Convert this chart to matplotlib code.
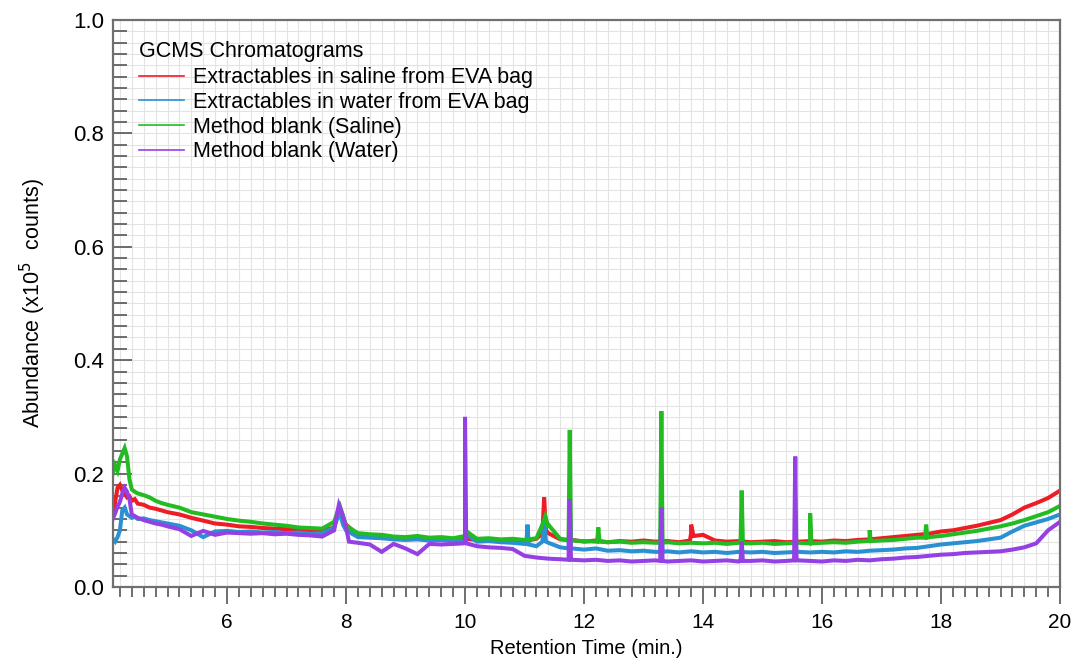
import numpy as np
import matplotlib
matplotlib.use('Agg')
import matplotlib.pyplot as plt
from matplotlib.ticker import MultipleLocator, FormatStrFormatter

plt.rcParams['font.family'] = ['Liberation Sans', 'DejaVu Sans']

# Tiempos de muestreo (min)
t_inicio = [4.08, 4.12, 4.16, 4.20, 4.24, 4.28, 4.32, 4.36, 4.40, 4.45,
            4.50, 4.60, 4.70, 4.80, 4.90]
t_regular = list(np.round(np.arange(5.0, 20.01, 0.2), 2))
tiempos = t_inicio + t_regular

# Línea base de cada cromatograma (x1e5 counts)
rojo = [0.125, 0.150, 0.175, 0.180, 0.170, 0.165, 0.158, 0.160, 0.152, 0.155,
        0.147, 0.145, 0.140, 0.138, 0.135,
        0.132, 0.128, 0.122, 0.117, 0.112, 0.110, 0.107, 0.106, 0.104, 0.103,
        0.102, 0.101, 0.100, 0.099, 0.105, 0.110, 0.092, 0.090, 0.089, 0.087,
        0.086, 0.088, 0.085, 0.086, 0.084, 0.085, 0.083, 0.084, 0.082, 0.083,
        0.081, 0.085, 0.095, 0.084, 0.083, 0.080, 0.082, 0.079, 0.081, 0.080,
        0.082, 0.080, 0.081, 0.079, 0.095, 0.092, 0.082, 0.080, 0.081, 0.079,
        0.080, 0.081, 0.079, 0.080, 0.081, 0.080, 0.082, 0.081, 0.083, 0.084,
        0.086, 0.088, 0.090, 0.092, 0.094, 0.098, 0.100, 0.104, 0.108, 0.113,
        0.118, 0.128, 0.140, 0.148, 0.157, 0.170]

azul = [0.085, 0.080, 0.088, 0.100, 0.135, 0.140, 0.128, 0.125, 0.122, 0.124,
        0.120, 0.121, 0.118, 0.116, 0.114,
        0.112, 0.108, 0.100, 0.088, 0.098, 0.099, 0.097, 0.098, 0.096, 0.097,
        0.095, 0.096, 0.094, 0.095, 0.105, 0.100, 0.088, 0.087, 0.086, 0.084,
        0.083, 0.084, 0.082, 0.083, 0.081, 0.082, 0.080, 0.081, 0.079, 0.078,
        0.076, 0.072, 0.078, 0.070, 0.068, 0.066, 0.068, 0.064, 0.065, 0.063,
        0.064, 0.062, 0.063, 0.061, 0.063, 0.061, 0.062, 0.060, 0.062, 0.061,
        0.062, 0.060, 0.061, 0.062, 0.061, 0.062, 0.061, 0.063, 0.062, 0.064,
        0.065, 0.066, 0.068, 0.069, 0.072, 0.075, 0.077, 0.079, 0.081, 0.084,
        0.087, 0.098, 0.108, 0.114, 0.120, 0.128]

verde = [0.200, 0.215, 0.205, 0.225, 0.235, 0.245, 0.230, 0.190, 0.172, 0.168,
         0.165, 0.162, 0.158, 0.152, 0.148,
         0.145, 0.140, 0.132, 0.128, 0.124, 0.120, 0.117, 0.115, 0.112, 0.110,
         0.108, 0.105, 0.104, 0.103, 0.115, 0.108, 0.095, 0.093, 0.092, 0.089,
         0.088, 0.090, 0.087, 0.088, 0.086, 0.090, 0.085, 0.086, 0.084, 0.085,
         0.083, 0.086, 0.105, 0.085, 0.082, 0.081, 0.080, 0.079, 0.080, 0.078,
         0.079, 0.078, 0.079, 0.077, 0.078, 0.077, 0.078, 0.076, 0.078, 0.077,
         0.078, 0.076, 0.077, 0.078, 0.077, 0.078, 0.079, 0.078, 0.080, 0.081,
         0.082, 0.083, 0.085, 0.087, 0.088, 0.090, 0.093, 0.096, 0.099, 0.103,
         0.107, 0.112, 0.118, 0.125, 0.132, 0.143]

morado = [0.120, 0.130, 0.142, 0.150, 0.165, 0.175, 0.168, 0.155, 0.128, 0.125,
          0.122, 0.118, 0.115, 0.112, 0.110,
          0.107, 0.102, 0.090, 0.099, 0.092, 0.096, 0.095, 0.094, 0.095, 0.093,
          0.094, 0.092, 0.091, 0.089, 0.100, 0.105, 0.078, 0.075, 0.062, 0.076,
          0.068, 0.058, 0.076, 0.075, 0.076, 0.078, 0.072, 0.070, 0.069, 0.067,
          0.055, 0.052, 0.050, 0.049, 0.048, 0.047, 0.048, 0.046, 0.047, 0.045,
          0.046, 0.047, 0.045, 0.046, 0.047, 0.045, 0.046, 0.047, 0.045, 0.046,
          0.047, 0.045, 0.046, 0.047, 0.046, 0.045, 0.047, 0.046, 0.048, 0.047,
          0.049, 0.050, 0.052, 0.053, 0.055, 0.057, 0.058, 0.060, 0.061, 0.062,
          0.063, 0.066, 0.070, 0.077, 0.100, 0.115]

# Picos (tiempo, abundancia)
picos_rojo = [(7.85, 0.125), (7.90, 0.135), (7.95, 0.120),
              (11.30, 0.095), (11.33, 0.158), (11.36, 0.100),
              (13.78, 0.082), (13.80, 0.110), (13.84, 0.090)]
picos_azul = [(7.85, 0.120), (7.90, 0.130), (7.95, 0.110), (10.00, 0.095),
              (11.03, 0.076), (11.05, 0.110), (11.07, 0.075),
              (11.30, 0.080), (11.33, 0.120), (11.36, 0.080),
              (11.74, 0.068), (11.76, 0.150), (11.78, 0.068),
              (13.28, 0.062), (13.30, 0.130), (13.32, 0.062)]
picos_verde = [(7.85, 0.130), (7.90, 0.142), (7.95, 0.125), (10.00, 0.100),
               (11.30, 0.110), (11.35, 0.125), (11.40, 0.110),
               (11.74, 0.082), (11.76, 0.277), (11.78, 0.082),
               (12.22, 0.080), (12.24, 0.105), (12.26, 0.080),
               (13.28, 0.078), (13.30, 0.310), (13.32, 0.078),
               (14.63, 0.078), (14.65, 0.170), (14.67, 0.077),
               (15.78, 0.077), (15.80, 0.130), (15.82, 0.077),
               (16.78, 0.081), (16.80, 0.100), (16.82, 0.081),
               (17.73, 0.087), (17.75, 0.110), (17.77, 0.087)]
picos_morado = [(7.85, 0.130), (7.88, 0.145), (7.95, 0.125), (8.05, 0.080),
                (9.98, 0.077), (10.00, 0.300), (10.02, 0.077),
                (11.74, 0.048), (11.76, 0.155), (11.78, 0.048),
                (13.28, 0.046), (13.30, 0.140), (13.32, 0.046),
                (14.63, 0.046), (14.65, 0.080), (14.67, 0.046),
                (15.53, 0.047), (15.55, 0.230), (15.57, 0.047)]

etiquetas = ['Extractables in saline from EVA bag',
             'Extractables in water from EVA bag',
             'Method blank (Saline)',
             'Method blank (Water)']
colores = ['#ee1c24', '#2a90d2', '#22bb22', '#9440e4']


def unir(base, picos):
    pts = list(zip(tiempos, base)) + picos
    pts.sort(key=lambda p: p[0])
    return [p[0] for p in pts], [p[1] for p in pts]


fig = plt.figure(figsize=(10.74, 6.63), dpi=100)
ax = fig.add_axes([0.105, 0.1146, 0.882, 0.8554])

series = [(rojo, picos_rojo), (azul, picos_azul),
          (verde, picos_verde), (morado, picos_morado)]
for (base, picos), col, lab in zip(series, colores, etiquetas):
    x, y = unir(base, picos)
    ax.plot(x, y, color=col, lw=2.9, label=lab, solid_joinstyle='miter')

ax.set_xlim(4.08, 20.0)
ax.set_ylim(0, 1.0)

ax.xaxis.set_major_locator(MultipleLocator(2))
ax.xaxis.set_minor_locator(MultipleLocator(0.2))
ax.yaxis.set_major_locator(MultipleLocator(0.2))
ax.yaxis.set_minor_locator(MultipleLocator(0.02))
ax.yaxis.set_major_formatter(FormatStrFormatter('%.1f'))

ax.grid(True, which='both', color='#e3e3e3', lw=0.8)
ax.set_axisbelow(True)

ax.tick_params(axis='x', which='major', direction='out', length=12,
               width=1.2, color='#555555', labelsize=15, pad=7)
ax.tick_params(axis='x', which='minor', direction='out', length=7,
               width=1.2, color='#555555')
ax.tick_params(axis='y', which='major', direction='in', length=14,
               width=1.2, color='#555555', labelsize=16, pad=6)
ax.tick_params(axis='y', which='minor', direction='in', length=10,
               width=1.2, color='#555555')

for s in ax.spines.values():
    s.set_color('#707070')
    s.set_linewidth(1.6)

ax.set_xlabel('Retention Time (min.)', fontsize=14.5, labelpad=5)
ax.set_ylabel(r'Abundance (x10$^{5}$  counts)', fontsize=15.5, labelpad=18)

leg = ax.legend(loc='upper left', frameon=False, fontsize=15.5,
                title='GCMS Chromatograms', title_fontsize=15.5,
                handlelength=2.1, handletextpad=0.4, labelspacing=0.17,
                borderaxespad=0.3, bbox_to_anchor=(0.012, 0.99))
leg._legend_box.align = 'left'
leg._legend_box.sep = 4
for h in leg.get_lines():
    h.set_linewidth(1.2)

fig.savefig('out.png', dpi=100)
